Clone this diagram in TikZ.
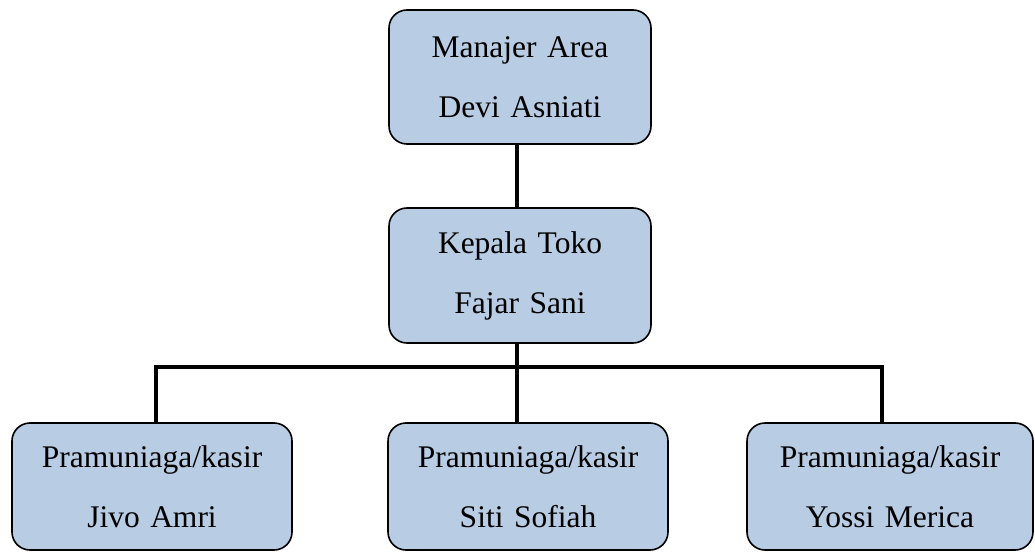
\documentclass[tikz,border=0pt]{standalone}
\usepackage{fontspec}
\setmainfont{Liberation Serif}
\definecolor{boxfill}{HTML}{B8CCE4}
\begin{document}
\begin{tikzpicture}[x=1pt,y=-1pt,
  orgbox/.style={draw=black, line width=1.6pt, fill=boxfill, rounded corners=18pt,
    inner sep=0pt, align=center, text width=#1, font=\fontsize{31.5}{60}\selectfont},
  conn/.style={draw=black, line width=3.6pt, line join=miter}]
\useasboundingbox (0,0) rectangle (1035,553);
\node[orgbox=262pt, minimum width=262pt, minimum height=134pt] (top) at (520,77) {Manajer Area\\Devi Asniati};
\node[orgbox=262pt, minimum width=262pt, minimum height=135pt] (mid) at (520,275.5) {Kepala Toko\\Fajar Sani};
\node[orgbox=280pt, minimum width=280pt, minimum height=127pt] (bl) at (152,486.5) {Pramuniaga/kasir\\Jivo Amri};
\node[orgbox=280pt, minimum width=280pt, minimum height=127pt] (bm) at (528,486.5) {Pramuniaga/kasir\\Siti Sofiah};
\node[orgbox=286pt, minimum width=286pt, minimum height=127pt] (br) at (890,486.5) {Pramuniaga/kasir\\Yossi Merica};
\coordinate (bus) at (517,367);
\coordinate (xl) at (156,0);
\coordinate (xr) at (882,0);
\draw[conn] (top.south -| bus) -- (mid.north -| bus);
\draw[conn] (mid.south -| bus) -- (bus);
\draw[conn] (bl.north -| xl) |- (bus) -| (br.north -| xr);
\draw[conn] (bus) -- (bm.north -| bus);
\end{tikzpicture}
\end{document}
